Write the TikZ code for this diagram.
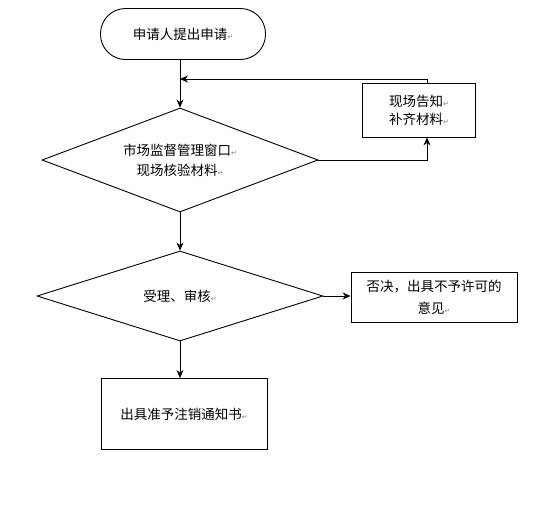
\documentclass[tikz,border=0pt]{standalone}
\usepackage{fontspec}
\setmainfont{Noto Sans CJK SC}
\newfontfamily\symfont{DejaVu Sans}
\usetikzlibrary{shapes.geometric, positioning, arrows.meta}
\newcommand{\pmark}{{\symfont\color{gray}\fontsize{7}{7}\selectfont ↵}}

\begin{document}
\begin{tikzpicture}[>={Stealth[length=8pt,width=7pt]}, x=1pt, y=-1pt, line width=0.9pt,
  font=\fontsize{13.5}{20}\selectfont,
  box/.style={draw, align=center, inner sep=0pt},
  dia/.style={draw, diamond, align=center, inner sep=0pt}]
\useasboundingbox (0,0) rectangle (538,512);
\node[box, rounded corners=25pt, minimum width=165pt, minimum height=51pt] (apply) at (183,34) {申请人提出申请\pmark};
\node[dia, aspect=2.65, minimum width=276pt, minimum height=104pt] (check) at (180,160) {市场监督管理窗口\pmark\\现场核验材料\pmark};
\node[box, minimum width=113pt, minimum height=54pt] (notify) at (419,110) {现场告知\pmark\\[-2pt]补齐材料\pmark};
\node[dia, aspect=3.18, minimum width=286pt, minimum height=90pt] (review) at (180,296) {受理、审核\pmark};
\node[box, minimum width=166pt, minimum height=50pt] (reject) at (434,297) {否决，出具不予许可的\\[2pt]意见\pmark};
\node[box, minimum width=166pt, minimum height=71pt] (permit) at (184,414) {出具准予注销通知书\pmark};
\coordinate (back) at (180,79);

\draw[->] (apply.south -| check.north) -- (check.north);
\draw[->] (check.east) -| ([xshift=8pt]notify.south);
\draw[->] ([xshift=8pt]notify.north) |- (back);
\draw[->] (check.south) -- (review.north);
\draw[->] (review.east) -- (reject.west |- review.east);
\draw[->] (review.south) -- (review.south |- permit.north);
\end{tikzpicture}
\end{document}
